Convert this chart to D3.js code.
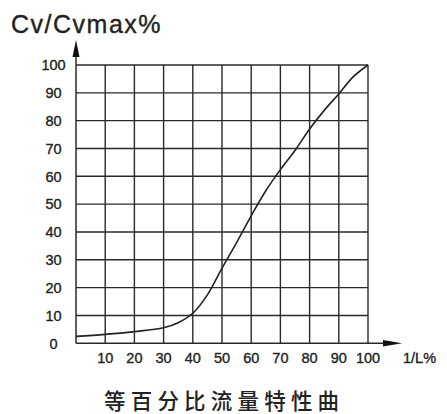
<!DOCTYPE html>
<html><head><meta charset="utf-8">
<script src="https://cdn.jsdelivr.net/npm/d3@7"></script>
<style>body{margin:0;background:#fff}svg{display:block}</style>
</head><body>
<svg id="c" width="447" height="414"></svg>
<script>
const openings = [0,10,20,30,35,40,45,50,55,60,65,70,75,80,85,90,95,100];
const flowPct = [2.5,3.2,4.2,5.6,7.4,10.8,17.4,27,36.2,45.8,54.8,62.4,69.3,77,83.7,89.6,95.8,100];
const xTicks = [10,20,30,40,50,60,70,80,90,100];
const yTicks = [0,10,20,30,40,50,60,70,80,90,100];
const gridX = [0,10,20,30,40,50,60,70,80,90,100];
const yTitle = "Cv/Cvmax%";
const xTitle = "1/L%";
const chartTitle = "等百分比流量特性曲";

const svg = d3.select("#c");
const x = d3.scaleLinear().domain([0,100]).range([76,368]);
const y = d3.scaleLinear().domain([0,100]).range([343.3,65]);
const ink = "#2a2a2a";
const font = "'Liberation Sans', Arial, Helvetica, sans-serif";

// grid
svg.append("g").selectAll("line").data(gridX.slice(1)).join("line")
  .attr("x1", d=>x(d)).attr("x2", d=>x(d)).attr("y1", y(0)).attr("y2", y(100))
  .attr("stroke", ink).attr("stroke-width", 1.4);
svg.append("g").selectAll("line").data(yTicks.slice(1)).join("line")
  .attr("x1", x(0)).attr("x2", x(100)).attr("y1", d=>y(d)).attr("y2", d=>y(d))
  .attr("stroke", ink).attr("stroke-width", 1.4);

// axes with arrows
svg.append("line").attr("x1", x(0)).attr("x2", x(0)).attr("y1", y(0)).attr("y2", 54)
  .attr("stroke", ink).attr("stroke-width", 1.5);
svg.append("path").attr("d", `M${x(0)},40 L${x(0)-3.5},57 L${x(0)+3.5},57 Z`).attr("fill", "#111");
svg.append("line").attr("x1", x(0)).attr("x2", 386).attr("y1", y(0)).attr("y2", y(0))
  .attr("stroke", ink).attr("stroke-width", 1.5);
svg.append("path").attr("d", `M402,${y(0)} L383,${y(0)-3.2} L383,${y(0)+3.2} Z`).attr("fill", "#111");

function heavy(sel){ return sel.attr("fill", "#222").attr("stroke", "#222").attr("stroke-width", 0.35); }

// tick labels
heavy(svg.append("g").selectAll("text").data(yTicks).join("text")
  .attr("x", 53.5).attr("y", d=>y(d)).attr("dy", "0.36em").attr("text-anchor", "middle")
  .attr("font-family", font).attr("font-size", 14.5).text(d=>d));
heavy(svg.append("g").selectAll("text").data(xTicks).join("text")
  .attr("x", d=>x(d)).attr("y", 363).attr("text-anchor", "middle")
  .attr("font-family", font).attr("font-size", 14.5).text(d=>d));

heavy(svg.append("text").attr("x", 403).attr("y", 363).attr("font-family", font)
  .attr("font-size", 14.5).text(xTitle));
heavy(svg.append("text").attr("x", 11).attr("y", 33).attr("font-family", font)
  .attr("font-size", 25).attr("letter-spacing", 1.5).text(yTitle));
svg.append("text").attr("x", 104).attr("y", 409).attr("font-family", "'Noto Sans CJK SC', sans-serif")
  .attr("font-size", 21.5).attr("font-weight", 500).attr("letter-spacing", 5.2).attr("fill", "#222").text(chartTitle);

// curve
const pts = openings.map((o,i)=>[o, flowPct[i]]);
svg.append("path").datum(pts)
  .attr("d", d3.line().x(d=>x(d[0])).y(d=>y(d[1])).curve(d3.curveCatmullRom.alpha(0.5)))
  .attr("fill", "none").attr("stroke", "#222").attr("stroke-width", 1.6);
</script>
</body></html>
